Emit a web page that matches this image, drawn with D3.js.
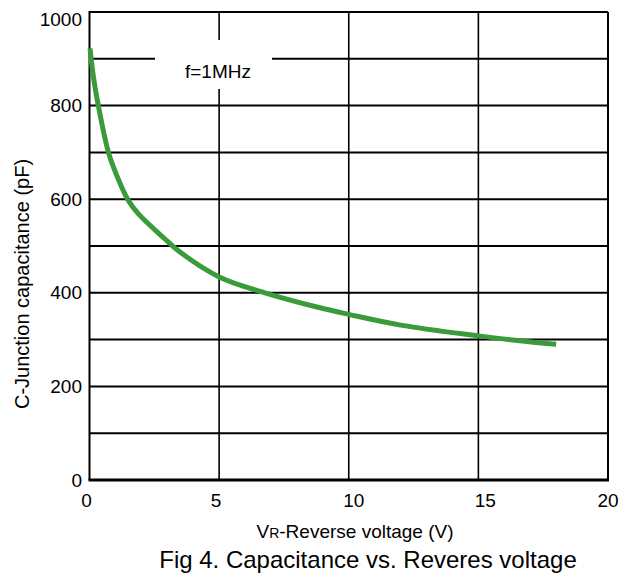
<!DOCTYPE html>
<html>
<head>
<meta charset="utf-8">
<script src="https://cdn.jsdelivr.net/npm/d3@7"></script>
<style>
  html, body { margin: 0; padding: 0; background: #fff; }
  svg { display: block; font-family: "Liberation Sans", Arial, sans-serif; }
</style>
</head>
<body>
<svg id="chart" width="635" height="577"></svg>
<script>
const voltage     = [0.02, 0.15, 0.34, 0.73, 0.92, 1.47, 1.88, 2.91, 3.49, 5, 6.77, 8.89, 10, 12, 15, 16.5, 18];
const capacitance = [922, 862, 800, 700, 669, 600, 569, 515, 487, 434, 400, 368, 354, 331, 308, 298, 290];
const xTicks = [0, 5, 10, 15, 20];
const yTicks = [0, 200, 400, 600, 800, 1000];
const yGrid  = [100, 200, 300, 400, 500, 600, 700, 800, 900];
const legendText = "f=1MHz";
const xTitleMain = "V", xTitleSub = "R", xTitleRest = "-Reverse voltage (V)";
const yTitle = "C-Junction capacitance (pF)";
const caption = "Fig 4. Capacitance vs. Reveres voltage";

const svg = d3.select("#chart");
const L = 89.5, R = 608, T = 12, B = 480;
const x = d3.scaleLinear().domain([0, 20]).range([L, R]);
const y = d3.scaleLinear().domain([0, 1000]).range([B, T]);

// horizontal grid
svg.append("g").selectAll("line").data(yGrid).join("line")
  .attr("x1", L).attr("x2", R)
  .attr("y1", d => y(d)).attr("y2", d => y(d))
  .attr("stroke", "#000").attr("stroke-width", 2);
// vertical grid
svg.append("g").selectAll("line").data(xTicks.slice(1, -1)).join("line")
  .attr("x1", d => x(d)).attr("x2", d => x(d))
  .attr("y1", T).attr("y2", B)
  .attr("stroke", "#000").attr("stroke-width", 1.6);

// frame
svg.append("line").attr("x1", L).attr("x2", R).attr("y1", T).attr("y2", T).attr("stroke", "#000").attr("stroke-width", 2);
svg.append("line").attr("x1", R).attr("x2", R).attr("y1", T).attr("y2", B).attr("stroke", "#000").attr("stroke-width", 2);
svg.append("line").attr("x1", L).attr("x2", L).attr("y1", T - 1).attr("y2", B).attr("stroke", "#000").attr("stroke-width", 2);
svg.append("line").attr("x1", L - 1).attr("x2", R + 1).attr("y1", B).attr("y2", B).attr("stroke", "#000").attr("stroke-width", 3);

// legend box (white, covers grid)
svg.append("rect").attr("x", 155).attr("y", 40).attr("width", 117).attr("height", 49).attr("fill", "#fff");
svg.append("text").attr("x", 218).attr("y", 78).attr("text-anchor", "middle")
  .attr("font-size", 19).attr("fill", "#000").text(legendText);

// curve
const line = d3.line().x((d, i) => x(voltage[i])).y(d => y(d)).curve(d3.curveCatmullRom.alpha(0.5));
svg.append("path").datum(capacitance).attr("d", line)
  .attr("fill", "none").attr("stroke", "#3a9b3a").attr("stroke-width", 5)
  .attr("stroke-linecap", "butt").attr("stroke-linejoin", "round");

// y tick labels
svg.append("g").selectAll("text").data(yTicks).join("text")
  .attr("x", 82).attr("y", d => y(d) + (d === 1000 ? 7 : 0))
  .attr("dy", "0.35em").attr("text-anchor", "end")
  .attr("font-size", 19).attr("fill", "#000").text(d => d);
// x tick labels
svg.append("g").selectAll("text").data(xTicks).join("text")
  .attr("x", d => x(d) + (d === 0 ? -3 : d === 5 ? -3 : d === 10 ? 5 : d === 15 ? 7 : 0))
  .attr("y", 507).attr("text-anchor", "middle")
  .attr("font-size", 19).attr("fill", "#000").text(d => d);

// x title
const xt = svg.append("text").attr("x", 355).attr("y", 538).attr("text-anchor", "middle")
  .attr("font-size", 19).attr("fill", "#000");
xt.append("tspan").text(xTitleMain);
xt.append("tspan").attr("font-size", 14).text(xTitleSub);
xt.append("tspan").text(xTitleRest);

// y title
svg.append("text").attr("transform", "translate(29,284) rotate(-90)")
  .attr("text-anchor", "middle").attr("font-size", 20).attr("fill", "#000").text(yTitle);

// caption
svg.append("text").attr("x", 368).attr("y", 568).attr("text-anchor", "middle")
  .attr("font-size", 24).attr("fill", "#000").text(caption);
</script>
</body>
</html>
